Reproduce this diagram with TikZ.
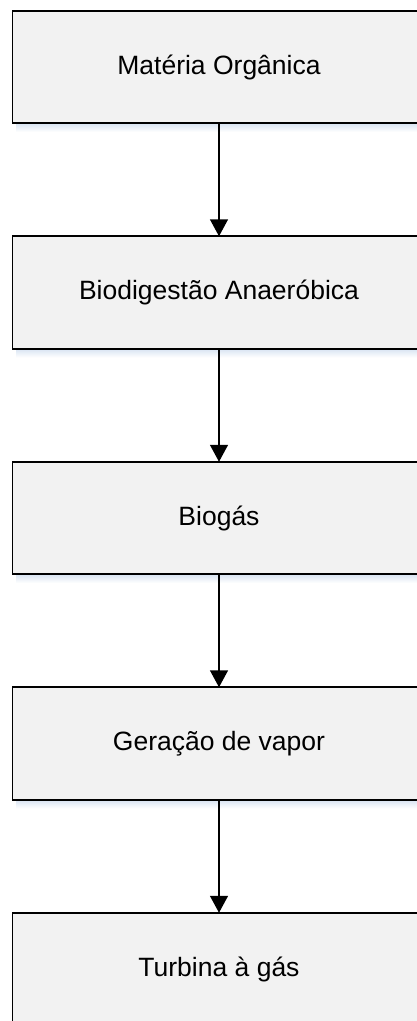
\documentclass[tikz,border=0pt]{standalone}
\usepackage{fontspec}
\setmainfont{Liberation Sans}
\usetikzlibrary{arrows.meta}
\definecolor{boxfill}{HTML}{F2F2F2}
\definecolor{shadowblue}{HTML}{D9E4F2}
\begin{document}
\begin{tikzpicture}[x=1pt,y=1pt,
  flowbox/.style={draw=black, line width=1.6pt, fill=boxfill, minimum width=413pt, minimum height=112.5pt, inner sep=0pt, outer sep=0pt, font=\fontsize{26.5}{30}\selectfont},
  flowarrow/.style={line width=1.5pt, -{Triangle[length=17pt,width=18pt]}}]
\useasboundingbox (0,0) rectangle (417,-1021);
\clip (0,0) rectangle (417,-1021);
\foreach \c in {67,292.5,518,743.5,969}{
  \shade[top color=shadowblue, bottom color=white] (16,-\c-56.5) rectangle (430,-\c-65);
}
\node[flowbox] (b1) at (219,-67) {Matéria Orgânica};
\node[flowbox] (b2) at (219,-292.5) {Biodigestão Anaeróbica};
\node[flowbox] (b3) at (219,-518) {Biogás};
\node[flowbox] (b4) at (219,-743.5) {Geração de vapor};
\node[flowbox] (b5) at (219,-969) {Turbina à gás};
\draw[flowarrow] (b1.south) -- (b2.north);
\draw[flowarrow] (b2.south) -- (b3.north);
\draw[flowarrow] (b3.south) -- (b4.north);
\draw[flowarrow] (b4.south) -- (b5.north);
\end{tikzpicture}
\end{document}
